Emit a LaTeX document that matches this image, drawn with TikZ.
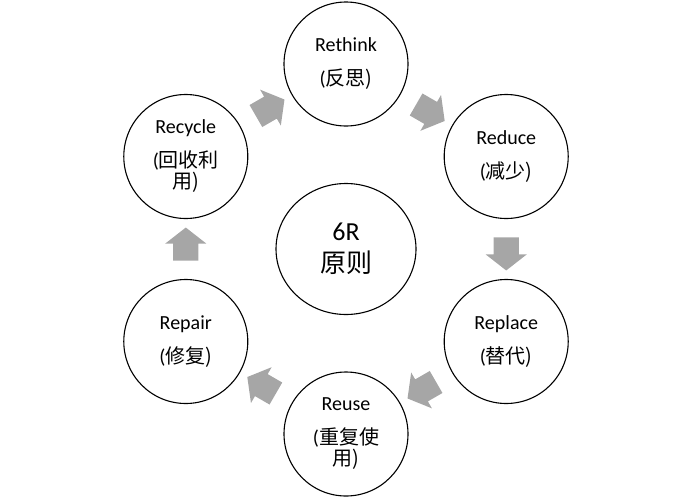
\documentclass[tikz,border=0pt]{standalone}
\usepackage{fontspec}
\setmainfont{Carlito}
\newfontfamily\cjk{Noto Sans CJK SC}
\usetikzlibrary{shapes.geometric,shapes.arrows}
\definecolor{arrowgray}{HTML}{A6A6A6}

\begin{document}
\begin{tikzpicture}[x=1pt,y=1pt,
  stage/.style={circle, draw=black, line width=1.1pt, minimum size=124pt,
    inner sep=0pt, align=center, font=\fontsize{20}{21}\selectfont},
  core/.style={ellipse, draw=black, line width=1.1pt, minimum width=140pt,
    minimum height=131pt, inner sep=0pt, align=center,
    font=\fontsize{26}{32}\selectfont},
  flow/.style={single arrow, fill=arrowgray, draw=none, inner xsep=0pt,
    inner ysep=12.5pt, minimum height=33pt, single arrow head extend=8pt,
    single arrow tip angle=104, sloped, allow upside down}]

  \useasboundingbox (0,0) rectangle (693,-498);
  \coordinate (mid) at (346,-249);

  % six stages on a ring round the centre
  \foreach \a/\nm/\txt in {
      90/rethink/{Rethink\\[13pt](\cjk{反思})},
      30/reduce/{Reduce\\[13pt](\cjk{减少})},
      -30/replace/{Replace\\[13pt](\cjk{替代})},
      -90/reuse/{Reuse\\[13pt](\cjk{重复使}\\\cjk{用})},
      -150/repair/{Repair\\[13pt](\cjk{修复})},
      150/recycle/{Recycle\\[13pt](\cjk{回收利}\\\cjk{用})}} {
    \node[stage] (\nm) at ([shift={(\a:185)}]mid) {\txt};
  }

  \node[core] (core) at (mid) {6R\\\cjk{原则}};

  % block arrows between neighbours
  \foreach \s/\t in {rethink/reduce, reduce/replace, replace/reuse,
      reuse/repair, repair/recycle, recycle/rethink}
    \path (\s) -- node[flow] {} (\t);

\end{tikzpicture}
\end{document}
